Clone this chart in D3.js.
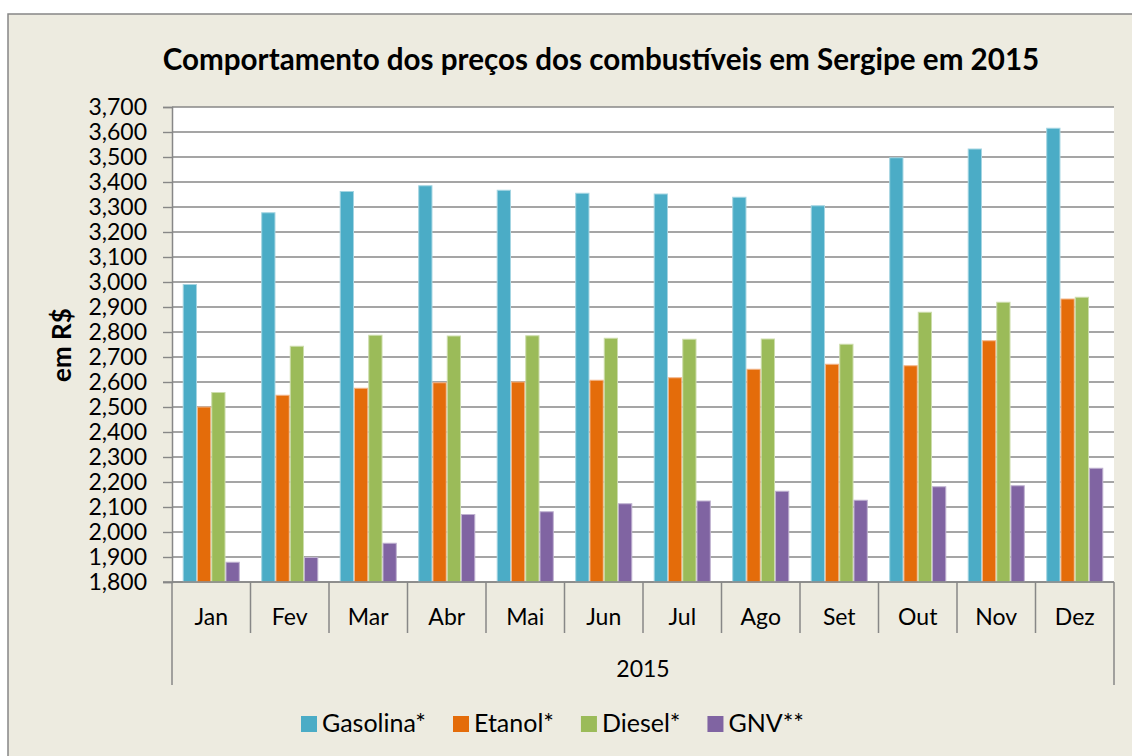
<!DOCTYPE html>
<html>
<head>
<meta charset="utf-8">
<script src="https://cdn.jsdelivr.net/npm/d3@7"></script>
<style>
  body { margin: 0; background: #fff; }
  svg { display: block; font-family: Lato, "Open Sans", sans-serif; }
</style>
</head>
<body>
<svg id="chart" width="1132" height="756"></svg>
<script>
// valores (R$)
const months = ["Jan", "Fev", "Mar", "Abr", "Mai", "Jun", "Jul", "Ago", "Set", "Out", "Nov", "Dez"];
const seriesNames = ["Gasolina*", "Etanol*", "Diesel*", "GNV**"];
const colors = ["#4BACC6", "#E46C0A", "#9BBB59", "#8064A2"];
const edgeColors = ["#A5D5E2", "#F2B58A", "#CDDDAC", "#BFB1D0"];

const gasolina = [2.990, 3.277, 3.362, 3.385, 3.367, 3.355, 3.352, 3.339, 3.305, 3.497, 3.532, 3.615];
const etanol   = [2.500, 2.547, 2.575, 2.597, 2.600, 2.607, 2.617, 2.651, 2.671, 2.665, 2.765, 2.932];
const diesel   = [2.558, 2.743, 2.787, 2.784, 2.785, 2.775, 2.771, 2.772, 2.751, 2.879, 2.919, 2.939];
const gnv      = [1.879, 1.898, 1.955, 2.070, 2.081, 2.113, 2.124, 2.163, 2.127, 2.181, 2.185, 2.255];

const yTicks = [1.8, 1.9, 2.0, 2.1, 2.2, 2.3, 2.4, 2.5, 2.6, 2.7, 2.8, 2.9, 3.0, 3.1, 3.2, 3.3, 3.4, 3.5, 3.6, 3.7];
const yearLabel = "2015";
const title = "Comportamento dos preços dos combustíveis em Sergipe em 2015";
const yTitle = "em R$";

const allSeries = [gasolina, etanol, diesel, gnv];

const svg = d3.select("#chart");
const plotL = 172, plotR = 1114, plotT = 107, plotB = 582;
const grid = "#878787";

// fundo do gráfico
svg.append("rect")
  .attr("x", 8).attr("y", 14)
  .attr("width", 1140).attr("height", 760)
  .attr("fill", "#EDEBE0")
  .attr("stroke", grid).attr("stroke-width", 1.5);

svg.append("rect")
  .attr("x", plotL).attr("y", plotT)
  .attr("width", plotR - plotL).attr("height", plotB - plotT)
  .attr("fill", "#fff");

const y = d3.scaleLinear().domain([1.8, 3.7]).range([plotB, plotT]);
const x0 = d3.scaleBand().domain(months).range([plotL, plotR]).padding(0);
const x1 = d3.scaleBand().domain(seriesNames).range([0, x0.bandwidth()])
  .paddingInner(0).paddingOuter(0.75);

const br = d3.formatLocale({ decimal: ",", thousands: ".", grouping: [3], currency: ["R$", ""] });
const fmt = br.format(".3f");

// linhas de grade
svg.append("g")
  .selectAll("line")
  .data(yTicks)
  .join("line")
  .attr("x1", plotL).attr("x2", plotR)
  .attr("y1", d => y(d)).attr("y2", d => y(d))
  .attr("stroke", grid).attr("stroke-width", 1.4);

// eixo y
const yAxis = svg.append("g")
  .attr("transform", `translate(${plotL},0)`)
  .call(d3.axisLeft(y).tickValues(yTicks).tickFormat(fmt).tickSize(9).tickPadding(16));
yAxis.select(".domain").attr("stroke", grid).attr("stroke-width", 1.5);
yAxis.selectAll(".tick line").attr("stroke", grid).attr("stroke-width", 1.4);
yAxis.selectAll("text")
  .attr("font-size", 23).attr("fill", "#000")
  .attr("font-family", "Lato, 'Open Sans', sans-serif");

// barras
const groups = svg.append("g")
  .selectAll("g")
  .data(months)
  .join("g")
  .attr("transform", d => `translate(${x0(d)},0)`);

groups.selectAll("rect")
  .data((m, i) => allSeries.map((s, k) => ({ name: seriesNames[k], k: k, v: s[i] })))
  .join("rect")
  .attr("x", d => x1(d.name) + 0.5)
  .attr("width", x1.bandwidth() - 1)
  .attr("y", d => y(d.v))
  .attr("height", d => plotB - y(d.v))
  .attr("fill", d => colors[d.k])
  .attr("stroke", d => edgeColors[d.k])
  .attr("stroke-width", 1);

// eixo x com categorias
svg.append("line")
  .attr("x1", plotL - 9).attr("x2", plotR)
  .attr("y1", plotB).attr("y2", plotB)
  .attr("stroke", grid).attr("stroke-width", 1.5);

const bounds = months.map(m => x0(m)).concat([plotR]);
svg.append("g")
  .selectAll("line")
  .data(bounds)
  .join("line")
  .attr("x1", d => d).attr("x2", d => d)
  .attr("y1", plotB)
  .attr("y2", (d, i) => (i === 0 || i === bounds.length - 1) ? 685 : 633)
  .attr("stroke", grid).attr("stroke-width", 1.5);

svg.append("g")
  .selectAll("text")
  .data(months)
  .join("text")
  .attr("x", d => x0(d) + x0.bandwidth() / 2)
  .attr("y", 625)
  .attr("text-anchor", "middle")
  .attr("font-size", 23)
  .text(d => d);

svg.append("text")
  .attr("x", (plotL + plotR) / 2)
  .attr("y", 677)
  .attr("text-anchor", "middle")
  .attr("font-size", 23)
  .text(yearLabel);

// títulos
svg.append("text")
  .attr("x", 601).attr("y", 70)
  .attr("text-anchor", "middle")
  .attr("font-size", 29.6).attr("font-weight", "bold")
  .text(title);

svg.append("text")
  .attr("transform", "translate(71,345) rotate(-90)")
  .attr("text-anchor", "middle")
  .attr("font-size", 26).attr("font-weight", "bold")
  .text(yTitle);

// legenda
const legend = svg.append("g");
let lx = 301;
seriesNames.forEach((name, k) => {
  legend.append("rect")
    .attr("x", lx).attr("y", 716)
    .attr("width", 16).attr("height", 16)
    .attr("fill", colors[k]);
  const t = legend.append("text")
    .attr("x", lx + 21).attr("y", 732)
    .attr("font-size", 25)
    .text(name);
  lx += 21 + t.node().getComputedTextLength() + 27;
});
</script>
</body>
</html>
